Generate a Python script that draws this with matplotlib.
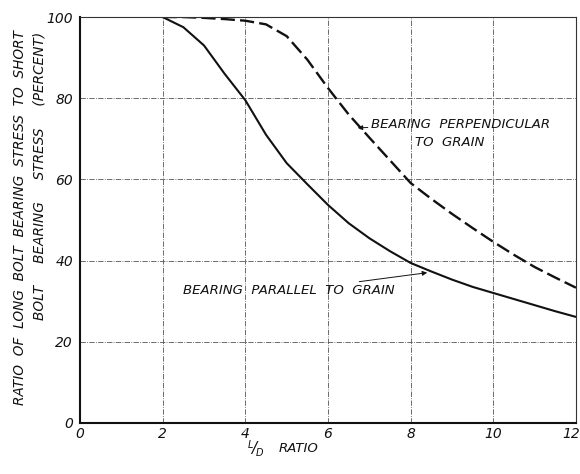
import matplotlib
matplotlib.use("Agg")
import matplotlib.pyplot as plt
from matplotlib.transforms import offset_copy

# L/D ratio readings (every half unit)
ld_parallel = [2, 2.5, 3, 3.5, 4, 4.5, 5, 5.5, 6, 6.5, 7, 7.5, 8, 8.5, 9, 9.5, 10, 10.5, 11, 11.5, 12]
stress_parallel = [100, 97.5, 93, 86, 79.5, 71, 64, 58.8, 53.7, 49.2, 45.5, 42.3, 39.4,
                   37.3, 35.3, 33.5, 32, 30.5, 29, 27.5, 26.1]

ld_perp = [2, 2.5, 3, 3.5, 4, 4.5, 5, 5.5, 6, 6.5, 7, 7.5, 8, 8.5, 9, 9.5, 10, 10.5, 11, 11.5, 12]
stress_perp = [100, 100, 99.8, 99.5, 99.1, 98.2, 95.3, 89.5, 82.5, 76, 70.3, 64.7, 59.1,
               55.2, 51.5, 48, 44.6, 41.4, 38.4, 35.8, 33.3]

x_ticks = [0, 2, 4, 6, 8, 10, 12]
y_ticks = [0, 20, 40, 60, 80, 100]

plt.rcParams['font.family'] = ['DejaVu Sans']
ink = '#111111'
txt = dict(color=ink, style='italic', fontsize=9.5)
ylab_txt = dict(color=ink, style='italic', fontsize=9.8)
tick_txt = dict(color=ink, style='italic', fontsize=10)

fig = plt.figure(figsize=(5.8, 4.74), dpi=100)
ax = fig.add_axes([0.138, 0.108, 0.855, 0.856])

ax.plot(ld_parallel, stress_parallel, color=ink, lw=1.5, solid_capstyle='round')
ax.plot(ld_perp, stress_perp, color=ink, lw=1.7, dashes=(6, 2.2))

ax.set_xlim(0, 12)
ax.set_ylim(0, 100)
ax.set_xticks(x_ticks)
ax.set_yticks(y_ticks)
ax.set_xticklabels([str(v) for v in x_ticks], **tick_txt)
ax.set_yticklabels([str(v) for v in y_ticks], **tick_txt)
ax.tick_params(axis='x', length=0, pad=3)
ax.tick_params(axis='y', length=0, pad=5)
# keep the last x label inside the figure edge
last = ax.get_xticklabels()[-1]
last.set_horizontalalignment('right')
last.set_transform(offset_copy(last.get_transform(), fig=fig, x=4, y=0, units='dots'))

for v in x_ticks[1:-1]:
    ax.axvline(v, color='#555555', lw=0.6, ls='-.', zorder=0)
for v in y_ticks[1:-1]:
    ax.axhline(v, color='#555555', lw=0.6, ls='-.', zorder=0)

for side in ['left', 'bottom']:
    ax.spines[side].set_linewidth(1.5)
    ax.spines[side].set_color(ink)
for side in ['top', 'right']:
    ax.spines[side].set_linewidth(0.8)
    ax.spines[side].set_color('#333333')

# y-axis title, two lines, top-aligned
fig.text(20 / 580, 1 - 30 / 474, 'RATIO  OF  LONG  BOLT  BEARING  STRESS  TO  SHORT',
         rotation=90, ha='center', va='top', **ylab_txt)
fig.text(40 / 580, 1 - 32 / 474, 'BOLT     BEARING     STRESS     (PERCENT)',
         rotation=90, ha='center', va='top', **ylab_txt)

# x-axis title: stacked L/D followed by RATIO
fig.text(250 / 580, 1 - 445 / 474, 'L', ha='center', va='center', color=ink,
         style='italic', fontsize=7)
fig.text(254 / 580, 1 - 449 / 474, '/', ha='center', va='center', color=ink,
         style='italic', fontsize=11)
fig.text(259 / 580, 1 - 453 / 474, 'D', ha='center', va='center', color=ink,
         style='italic', fontsize=7)
fig.text(279 / 580, 1 - 449 / 474, 'RATIO', ha='left', va='center', **txt)

# curve labels
arrow = dict(arrowstyle='-|>', color=ink, lw=0.7, mutation_scale=7,
             shrinkA=0, shrinkB=0)
ax.annotate('BEARING  PERPENDICULAR', xy=(6.72, 72.7), xytext=(7.03, 73.5),
            ha='left', va='center', arrowprops=arrow, **txt)
ax.text(8.1, 69.0, 'TO  GRAIN', ha='left', va='center', **txt)
ax.annotate('BEARING  PARALLEL  TO  GRAIN', xy=(8.4, 37.0), xytext=(7.62, 32.5),
            ha='right', va='center', arrowprops=arrow, **txt)

fig.savefig('out.png', dpi=100, facecolor='white')
